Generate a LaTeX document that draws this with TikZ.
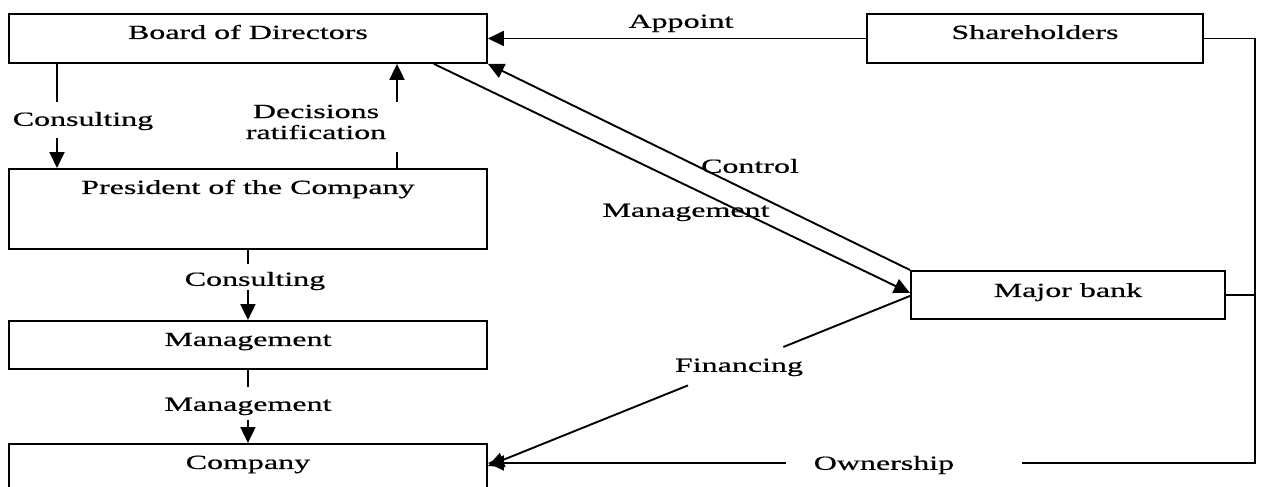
\documentclass[tikz,border=0pt]{standalone}
\usepackage{fontspec}
\setmainfont[FakeStretch=1.6,FakeBold=0.6]{Liberation Serif}
\usetikzlibrary{arrows.meta,calc}
\begin{document}
\begin{tikzpicture}[x=0.5pt,y=-0.5pt,
  ln/.style={line width=0.95pt},
  arr/.style={ln,-{Triangle[length=8pt,width=7.5pt]}},
  box/.style={draw,line width=0.95pt,inner sep=0pt,anchor=north west,font=\fontsize{10pt}{10.5pt}\selectfont},
  lbl/.style={inner sep=0pt,text height=6.8pt,text depth=2pt,yshift=-1.5pt,font=\fontsize{10pt}{10.5pt}\selectfont}]
\useasboundingbox (0,0) rectangle (1265,487);
% boxes
\node[box,minimum width=239pt,text height=12.5pt,text depth=12pt] (board) at (8,13) {Board of Directors};
\node[box,minimum width=168pt,text height=12.5pt,text depth=12pt] (sh) at (866,13) {Shareholders};
\node[box,minimum width=239pt,text height=12.5pt,text depth=27.5pt] (pres) at (8,168) {President of the Company};
\node[box,minimum width=239pt,text height=12.5pt,text depth=11.5pt] (mgmt) at (8,320) {Management};
\node[box,minimum width=239pt,text height=12.5pt,text depth=14.5pt] (co) at (8,443) {Company};
\node[box,minimum width=157pt,text height=13pt,text depth=11pt] (bank) at (910,270) {Major bank};
% labels
\node[lbl] (lapp) at (681,20) {Appoint};
\node[lbl] (lcons1) at (83,118) {Consulting};
\node[inner sep=0pt,align=center,font=\fontsize{10pt}{10.5pt}\selectfont] (ldec) at (316,122) {Decisions\\ratification};
\node[lbl] (lcons2) at (255,278) {Consulting};
\node[lbl] (lmgmt2) at (248,403) {Management};
\node[lbl] (lctrl) at (750,165) {Control};
\node[lbl] (lmgmt1) at (686,209) {Management};
\node[lbl] (lfin) at (739,364) {Financing};
\node[lbl] (lown) at (884,462) {Ownership};
% coordinates
\coordinate (rt) at (1255,463);
\coordinate (ownr) at (1022,463);
\coordinate (ownl) at (786,463);
\coordinate (coin) at ([yshift=-10pt]co.north east);
\coordinate (cofin) at ([yshift=-11.5pt]co.north east);
\coordinate (bankf) at ([yshift=-0.5pt]bank.west);
\coordinate (bankm) at ([yshift=1pt]bank.west);
\coordinate (bdm) at ([xshift=-27pt]board.south east);
% appoint
\draw[arr] (sh.west) -- (board.east);
% ownership
\draw[ln] (sh.east) -| (rt) -- (ownr);
\draw[ln] (bank.east) -- (bank.east -| rt);
\draw[arr] (ownl |- coin) -- (coin);
% management / control
\draw[arr] (bdm) -- (bankm);
\draw[arr] (bank.north west) -- (board.south east);
% financing
\draw[ln] (bankf) -- ($(bankf)!0.30!(cofin)$);
\draw[arr] ($(bankf)!0.526!(cofin)$) -- (cofin);
% consulting left
\draw[ln] ([xshift=24.5pt]board.south west) -- ++(0,38);
\draw[arr] ($([xshift=24.5pt]pres.north west)+(0,-30)$) -- ([xshift=24.5pt]pres.north west);
% decisions ratification
\draw[ln] ([xshift=194.5pt]pres.north west) -- ++(0,-16);
\draw[arr] ($([xshift=194.5pt]board.south west)+(0,38)$) -- ([xshift=194.5pt]board.south west);
% consulting middle
\draw[ln] (pres.south) -- ++(0,14);
\draw[arr] ($(mgmt.north)+(0,-30)$) -- (mgmt.north);
% management lower
\draw[ln] (mgmt.south) -- ++(0,17);
\draw[arr] ($(co.north)+(0,-23)$) -- (co.north);
\end{tikzpicture}
\end{document}
